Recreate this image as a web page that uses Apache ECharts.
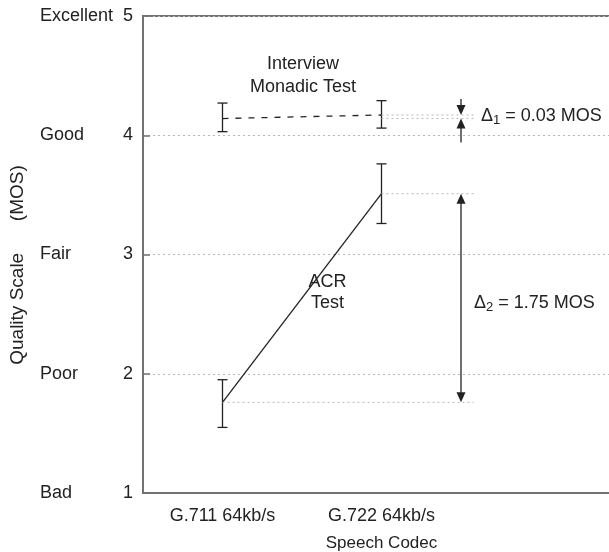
<!DOCTYPE html>
<html><head><meta charset="utf-8">
<script src="https://cdn.jsdelivr.net/npm/echarts@6/dist/echarts.min.js"></script>
<style>html,body{margin:0;padding:0;background:#fff}#c{width:609px;height:552px}</style>
</head><body><div id="c"></div>
<script>
// ---- data ----
const categories = ['G.711 64kb/s', 'G.722 64kb/s', ''];
const qualityNames = {1: 'Bad', 2: 'Poor', 3: 'Fair', 4: 'Good', 5: 'Excellent'};
const interviewMean = [4.14, 4.17];
const interviewLow = [4.03, 4.06];
const interviewHigh = [4.27, 4.29];
const acrMean = [1.76, 3.51];
const acrLow = [1.55, 3.26];
const acrHigh = [1.95, 3.76];
const delta1Label = '0.03 MOS';
const delta2Label = '1.75 MOS';

// ---- style ----
const FONT = '"Liberation Sans", Arial, Helvetica, sans-serif';
const INK = '#222';
const AXIS = '#727272';
const DOT = '#b8b8b8';
const FS = 18;

const chart = echarts.init(document.getElementById('c'));

const errData = [];
for (let i = 0; i < 2; i++) errData.push([i, interviewLow[i], interviewHigh[i]]);
for (let i = 0; i < 2; i++) errData.push([i, acrLow[i], acrHigh[i]]);

function head(tip, dir) { // dir +1: pointing down, -1: pointing up
  const L = 10, W = 4.5;
  return {type: 'polygon', shape: {points: [[tip[0], tip[1]], [tip[0] - W, tip[1] - dir * L], [tip[0] + W, tip[1] - dir * L]]},
    style: {fill: INK}};
}
function seg(a, b, style) {
  return {type: 'line', shape: {x1: a[0], y1: a[1], x2: b[0], y2: b[1]}, style: style};
}

const REF_END = 2.08;   // right end of dotted reference lines (hidden value axis, category i centre = i+0.5)
const ARROW_X = 2.0;

const option = {
  animation: false,
  backgroundColor: '#fff',
  textStyle: {fontFamily: FONT},
  grid: {left: 143, right: -11, top: 16, bottom: 59, show: true, borderColor: AXIS, borderWidth: 2,
    containLabel: false, outerBoundsMode: 'none'},
  xAxis: [{
    type: 'category', data: categories, boundaryGap: true,
    axisLine: {lineStyle: {color: AXIS, width: 2}},
    axisTick: {inside: true, alignWithLabel: true, length: 7, interval: (i) => i < 2, lineStyle: {color: AXIS, width: 1.5}},
    axisLabel: {color: INK, fontSize: FS, fontFamily: FONT, margin: 14, interval: 0},
    splitLine: {show: false},
    name: 'Speech Codec', nameLocation: 'middle', nameGap: 42,
    nameTextStyle: {color: INK, fontSize: FS - 1, fontFamily: FONT}
  }, {
    type: 'value', min: 0, max: 3, show: false
  }],
  yAxis: [{
    type: 'value', min: 1, max: 5, interval: 1,
    axisLine: {show: true, lineStyle: {color: AXIS, width: 2}},
    axisTick: {show: true, inside: true, length: 7, lineStyle: {color: AXIS, width: 1.5}},
    axisLabel: {color: INK, fontSize: FS, fontFamily: FONT, margin: 10},
    splitLine: {show: true, lineStyle: {color: DOT, type: [2, 3], width: 1}}
  }, {
    type: 'value', min: 1, max: 5, interval: 1, position: 'left',
    axisLine: {show: false}, axisTick: {show: false}, splitLine: {show: false},
    axisLabel: {color: INK, fontSize: FS, fontFamily: FONT, margin: 103, align: 'left',
      formatter: (v) => qualityNames[v] || ''}
  }],
  graphic: [{
    type: 'text', x: 18, y: 265, rotation: Math.PI / 2,
    style: {text: 'Quality Scale      (MOS)', fill: INK, font: '19px ' + FONT, align: 'center', verticalAlign: 'middle'}
  }],
  series: [
    {
      name: 'Interview Monadic Test', type: 'line', data: interviewMean, symbol: 'none', z: 3,
      lineStyle: {color: INK, width: 1.3, type: [6, 7]}
    },
    {
      name: 'ACR Test', type: 'line', data: acrMean, symbol: 'none', z: 3,
      lineStyle: {color: INK, width: 1.3, type: 'solid'}
    },
    {
      name: 'errors', type: 'custom', data: errData, encode: {x: 0, y: [1, 2]}, z: 4,
      renderItem: function (params, api) {
        const x = api.value(0);
        const lo = api.coord([x, api.value(1)]);
        const hi = api.coord([x, api.value(2)]);
        const c = 5, st = {stroke: INK, lineWidth: 1.3};
        return {type: 'group', children: [
          seg(lo, hi, st),
          seg([lo[0] - c, lo[1]], [lo[0] + c, lo[1]], st),
          seg([hi[0] - c, hi[1]], [hi[0] + c, hi[1]], st)
        ]};
      }
    },
    {
      name: 'annotations', type: 'custom', xAxisIndex: 1, yAxisIndex: 0, data: [0], z: 5,
      renderItem: function (params, api) {
        const dotSt = {stroke: DOT, lineWidth: 1, lineDash: [2, 3]};
        const lineSt = {stroke: INK, lineWidth: 1.3};
        const ch = [];
        // dotted reference lines
        const refs = [[1, interviewMean[0]], [1, interviewMean[1]], [1, acrMean[1]], [0, acrMean[0]]];
        refs.forEach(r => ch.push(seg(api.coord([r[0] + 0.5, r[1]]), api.coord([REF_END, r[1]]), dotSt)));
        // delta 1 arrows
        const t1 = api.coord([ARROW_X, interviewMean[1]]);
        const b1 = api.coord([ARROW_X, interviewMean[0]]);
        ch.push(seg([t1[0], t1[1] - 16], [t1[0], t1[1] - 8], lineSt));
        ch.push(head(t1, 1));
        ch.push(seg([b1[0], b1[1] + 8], [b1[0], b1[1] + 24], lineSt));
        ch.push(head(b1, -1));
        // delta 2 double arrow
        const t2 = api.coord([ARROW_X, acrMean[1]]);
        const b2 = api.coord([ARROW_X, acrMean[0]]);
        ch.push(seg([t2[0], t2[1] + 8], [b2[0], b2[1] - 8], lineSt));
        ch.push(head(t2, -1));
        ch.push(head(b2, 1));
        // labels
        const rich = {
          d: {fontSize: FS, fontFamily: FONT, fill: INK, color: INK},
          s: {fontSize: 13, fontFamily: FONT, fill: INK, color: INK, verticalAlign: 'bottom', padding: [9, 0, 0, 0]}
        };
        const mid1 = (t1[1] + b1[1]) / 2;
        ch.push({type: 'text', style: {text: '{d|Δ}{s|1}{d| = ' + delta1Label + '}', rich: rich, x: t1[0] + 20, y: mid1 - 1, verticalAlign: 'middle', align: 'left'}});
        const mid2 = (t2[1] + b2[1]) / 2;
        ch.push({type: 'text', style: {text: '{d|Δ}{s|2}{d| = ' + delta2Label + '}', rich: rich, x: t2[0] + 13, y: mid2 + 5, verticalAlign: 'middle', align: 'left'}});
        const p1 = api.coord([1.006, 4.50]);
        ch.push({type: 'text', style: {text: 'Interview\nMonadic Test', x: p1[0], y: p1[1], align: 'center', verticalAlign: 'middle',
          fill: INK, font: FS + 'px ' + FONT, lineHeight: 23}});
        const p2 = api.coord([1.16, 2.68]);
        ch.push({type: 'text', style: {text: 'ACR\nTest', x: p2[0], y: p2[1], align: 'center', verticalAlign: 'middle',
          fill: INK, font: FS + 'px ' + FONT, lineHeight: 21}});
        return {type: 'group', children: ch};
      }
    }
  ]
};
chart.setOption(option);
</script>
</body></html>
